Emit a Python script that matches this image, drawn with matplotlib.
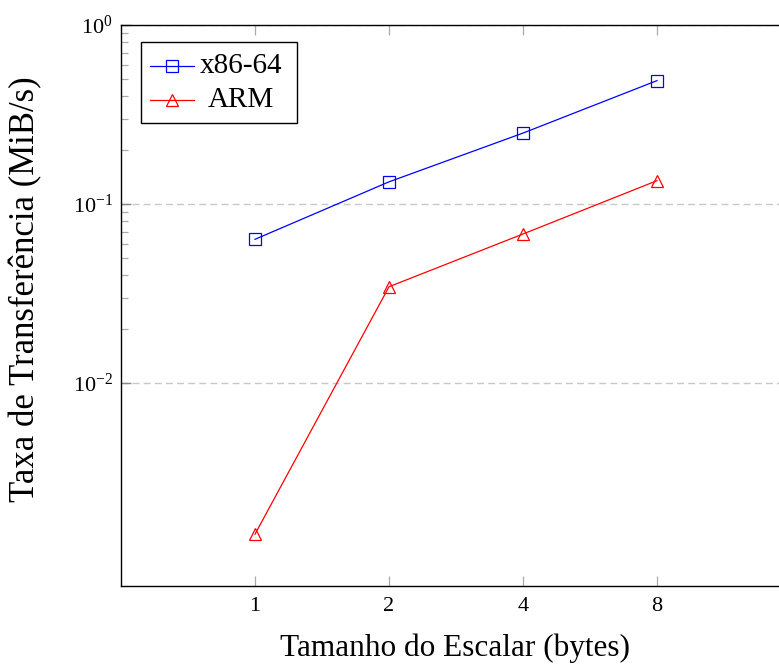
import matplotlib
matplotlib.use("Agg")
import matplotlib.pyplot as plt
from matplotlib.ticker import NullFormatter, FixedLocator, FixedFormatter, LogFormatterSciNotation
from matplotlib.lines import Line2D
from matplotlib.patches import Rectangle

plt.rcParams["font.family"] = ["Liberation Serif", "DejaVu Serif"]
plt.rcParams["mathtext.fontset"] = "stix"

# Scalar sizes (bytes) and measured transfer rates (MiB/s)
sizes = [1, 2, 4, 8]
x86_rate = [0.0635, 0.133, 0.249, 0.489]
arm_rate = [0.00143, 0.0345, 0.068, 0.135]
series_names = ["x86-64", "ARM"]
y_major = [1e-2, 1e-1, 1e0]
xlabel = "Tamanho do Escalar (bytes)"
ylabel = "Taxa de Transferência (MiB/s)"

W, H = 779, 664
fig = plt.figure(figsize=(W / 100, H / 100), dpi=100)
ax = fig.add_axes([121 / W, 78 / H, 670 / W, 561 / H])

pos = list(range(1, len(sizes) + 1))
ax.plot(pos, x86_rate, color="blue", lw=0.9, marker="s", ms=9,
        mfc="none", mec="blue", mew=0.9, clip_on=False, zorder=3)
ax.plot(pos, arm_rate, color="red", lw=0.9, marker="^", ms=9,
        mfc="none", mec="red", mew=0.9, clip_on=False, zorder=3)

ax.set_yscale("log")
ax.set_ylim(10 ** -3.134, 1)
ax.set_xlim(0, 5)

ax.xaxis.set_major_locator(FixedLocator(pos))
ax.xaxis.set_major_formatter(FixedFormatter([str(s) for s in sizes]))
ax.yaxis.set_major_locator(FixedLocator(y_major))
ax.yaxis.set_major_formatter(LogFormatterSciNotation())
minor = [m * d for d in y_major[:-1] for m in range(2, 10)]
ax.yaxis.set_minor_locator(FixedLocator(minor))
ax.yaxis.set_minor_formatter(NullFormatter())

ax.tick_params(axis="x", which="major", direction="in", length=7, width=0.9,
               color="#aaaaaa", top=True, bottom=True, labelsize=16, pad=8,
               labelcolor="black")
ax.tick_params(axis="y", which="major", direction="in", length=7, width=1.0,
               color="#888888", left=True, right=False, labelsize=16, pad=6,
               labelcolor="black")
ax.tick_params(axis="y", which="minor", direction="in", length=5, width=0.9,
               color="#aaaaaa", left=True, right=False)

ax.grid(True, axis="y", which="major", color="#c8c8c8", lw=1.0,
        linestyle=(0, (5, 3)))
ax.set_axisbelow(True)

for side in ["left", "top", "bottom"]:
    ax.spines[side].set_linewidth(1.0)
    ax.spines[side].set_color("black")
ax.spines["right"].set_visible(False)

fig.text(455 / W, 1 - 648 / H, xlabel, ha="center", va="center", fontsize=22.5)
fig.text(26 / W, 1 - 289 / H, ylabel, ha="center", va="center",
         rotation=90, fontsize=25)

# Legend box with centred entry labels
def ax_xy(px, py):
    return ((px - 121) / 670, 1 - (py - 25) / 561)

x0, y0 = ax_xy(141, 123)
x1, y1 = ax_xy(297, 42)
ax.add_patch(Rectangle((x0, y0), x1 - x0, y1 - y0, transform=ax.transAxes,
                       facecolor="white", edgecolor="black", lw=1.0,
                       zorder=5, clip_on=False))
rows = [(66, "blue", "s"), (100, "red", "^")]
for (py, col, mk), name in zip(rows, series_names):
    ha_, ya = ax_xy(150, py)
    hb_, _ = ax_xy(194, py)
    hm_, _ = ax_xy(172, py)
    ax.add_line(Line2D([ha_, hb_], [ya, ya], transform=ax.transAxes,
                       color=col, lw=0.9, zorder=6, clip_on=False))
    ax.add_line(Line2D([hm_], [ya], transform=ax.transAxes, marker=mk,
                       ms=9, mfc="none", mec=col, mew=0.9, zorder=6,
                       clip_on=False))
    tx, _ = ax_xy(241, py)
    ax.text(tx, ya, name, transform=ax.transAxes, ha="center",
            va="center", fontsize=21, zorder=7)

fig.savefig("out.png", dpi=100)
